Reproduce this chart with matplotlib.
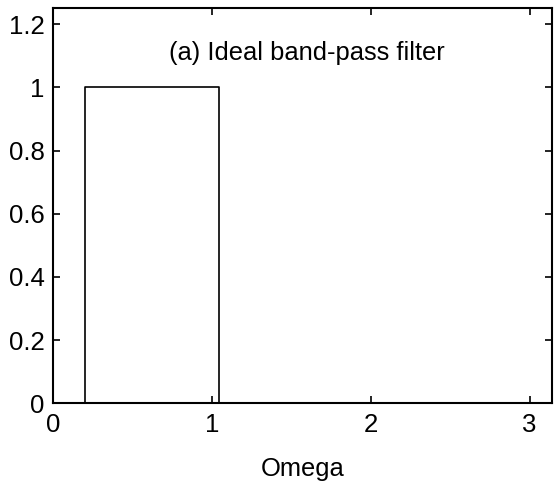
import numpy as np
import matplotlib
matplotlib.use('Agg')
import matplotlib.pyplot as plt

# Ideal band-pass filter response (passband 0.2 .. pi/3)
omega = [0.0, 0.2, 0.2, np.pi / 3, np.pi / 3, np.pi]
H = [0, 0, 1, 1, 0, 0]
xticks = [0, 1, 2, 3]
yticks = [0, 0.2, 0.4, 0.6, 0.8, 1, 1.2]
yticklabels = ['0', '0.2', '0.4', '0.6', '0.8', '1', '1.2']

plt.rcParams['font.family'] = ['Liberation Sans', 'DejaVu Sans']

fig = plt.figure(figsize=(5.54, 4.83), dpi=100)
ax = fig.add_axes([0.0957, 0.1648, 0.9007, 0.818])

ax.plot(omega, H, color='black', linewidth=1.2)
ax.set_xlim(0, np.pi)
ax.set_ylim(0, 1.25)
ax.set_xticks(xticks)
ax.set_yticks(yticks)
ax.set_yticklabels(yticklabels)
ax.tick_params(direction='in', top=True, right=True, length=5, width=1.2,
               labelsize=18.5, pad=6)
ax.tick_params(axis='x', pad=7)
for s in ax.spines.values():
    s.set_linewidth(1.5)

ax.text(0.733, 1.108, '(a) Ideal band-pass filter', fontsize=18.4, va='center')
ax.set_xlabel('Omega', fontsize=18.4, labelpad=14)

fig.savefig('out.png', dpi=100)
